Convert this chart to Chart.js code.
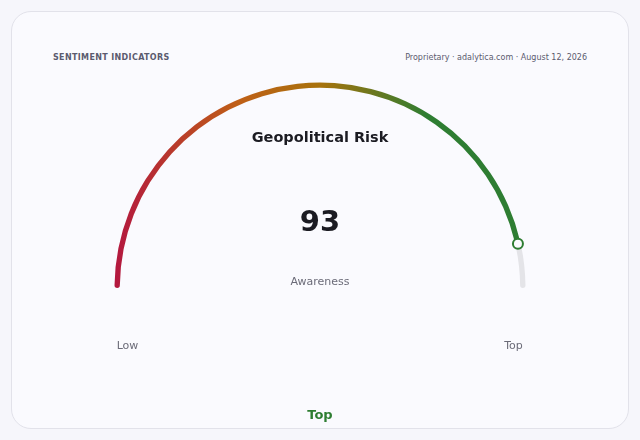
<!DOCTYPE html>
<html>
<head>
<meta charset="utf-8">
<script src="https://cdn.jsdelivr.net/npm/chart.js@4.4.1/dist/chart.umd.min.js"></script>
<style>
  html, body { margin: 0; padding: 0; background: #f6f6fb; }
  body { width: 640px; height: 440px; position: relative; overflow: hidden; font-family: "DejaVu Sans", sans-serif; }
  .card {
    position: absolute; left: 11px; top: 11px; width: 616px; height: 416px;
    border: 1px solid #e2e2ea; border-radius: 20px; background: #fafafe;
  }
  .head-left {
    position: absolute; left: 53px; top: 53px; font-size: 8px; font-weight: bold;
    letter-spacing: 0.35px; color: #5b5b6e;
  }
  .head-right {
    position: absolute; right: 53px; top: 53px; font-size: 8px; color: #5b5b6e;
  }
  .foot {
    position: absolute; left: 0; width: 640px; top: 407px; text-align: center;
    font-size: 13px; font-weight: bold; color: #2e7d32;
  }
  #wrap { position: absolute; left: 0; top: 0; width: 640px; height: 440px; }
</style>
</head>
<body>
<div class="card"></div>
<div class="head-left">SENTIMENT INDICATORS</div>
<div class="head-right">Proprietary · adalytica.com · August 12, 2026</div>
<div id="wrap"><canvas id="gauge"></canvas></div>
<div class="foot">Top</div>
<script>
const gaugeLabels = ["Score", "Remaining"];
const gaugeValue = 93;
const gaugeMax = 100;
const gaugeTitle = "Geopolitical Risk";
const gaugeCaption = "Awareness";
const endLabels = ["Low", "Top"];

const gradientStops = [
  [0, "#b3173f"],
  [0.3, "#bf5f17"],
  [0.5, "#a8720c"],
  [0.76, "#2e7d32"],
  [1, "#2e7d32"],
];
const trackColor = "#e4e4e8";

function arcColor(context) {
  if (context.dataIndex === 1) return trackColor;
  const { ctx, chartArea } = context.chart;
  if (!chartArea) return "#2e7d32";
  const g = ctx.createLinearGradient(chartArea.left, 0, chartArea.right, 0);
  gradientStops.forEach(([p, c]) => g.addColorStop(p, c));
  return g;
}

const gaugeText = {
  id: "gaugeText",
  afterDatasetsDraw(chart) {
    const arc = chart.getDatasetMeta(0).data[0];
    if (!arc) return;
    const { ctx } = chart;
    const { x, y, outerRadius, innerRadius, endAngle } = arc.getProps(["x", "y", "outerRadius", "innerRadius", "endAngle"], true);
    const mid = (outerRadius + innerRadius) / 2;

    // marker at value end
    ctx.save();
    ctx.beginPath();
    ctx.arc(x + Math.cos(endAngle) * mid, y + Math.sin(endAngle) * mid, 5, 0, Math.PI * 2);
    ctx.fillStyle = "#fafafe";
    ctx.fill();
    ctx.lineWidth = 2;
    ctx.strokeStyle = "#2e7d32";
    ctx.stroke();

    ctx.textAlign = "center";
    ctx.textBaseline = "middle";
    ctx.fillStyle = "#1b1b22";
    ctx.font = "bold 14.5px 'DejaVu Sans'";
    ctx.fillText(gaugeTitle, x, y - 150);
    ctx.font = "bold 29px 'DejaVu Sans'";
    ctx.fillText(String(gaugeValue), x, y - 65);
    ctx.fillStyle = "#6b6b78";
    ctx.font = "11px 'DejaVu Sans'";
    ctx.fillText(gaugeCaption, x, y - 6);
    ctx.fillText(endLabels[0], x - outerRadius + 13, y + 58);
    ctx.fillText(endLabels[1], x + outerRadius - 12, y + 58);
    ctx.restore();
  },
};

new Chart(document.getElementById("gauge"), {
  type: "doughnut",
  data: {
    labels: gaugeLabels,
    datasets: [{
      data: [gaugeValue, gaugeMax - gaugeValue],
      backgroundColor: arcColor,
      borderWidth: 0,
      borderRadius: 3,
    }],
  },
  options: {
    responsive: true,
    maintainAspectRatio: false,
    animation: false,
    rotation: -90,
    circumference: 180,
    cutout: "97.4%",
    layout: { padding: { left: 114.5, right: 114.5, top: 82.5, bottom: 152 } },
    plugins: { legend: { display: false }, tooltip: { enabled: false } },
  },
  plugins: [gaugeText],
});
</script>
</body>
</html>
